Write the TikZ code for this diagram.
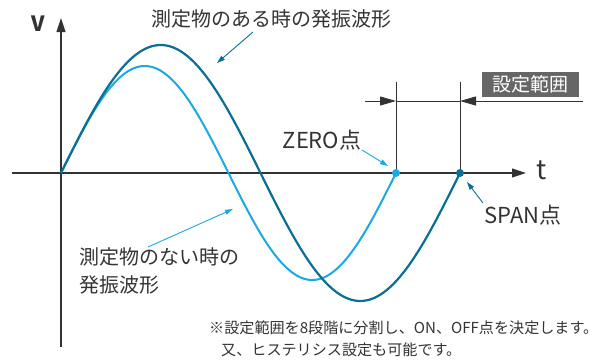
\documentclass[tikz,border=0pt]{standalone}
\usepackage{fontspec}
\setmainfont{Noto Sans CJK JP}
\usetikzlibrary{arrows.meta, positioning}
\definecolor{wavedark}{HTML}{0B6E94}
\definecolor{wavelight}{HTML}{1BA9E1}
\definecolor{inkgray}{HTML}{333333}
\definecolor{boxgray}{HTML}{666666}

\begin{document}
\begin{tikzpicture}[x=1pt, y=1pt,
    axisline/.style={inkgray, line width=1.1pt, -{Triangle[length=14pt, width=9pt]}},
    guide/.style={inkgray, line width=1pt},
    rangetip/.style={inkgray, line width=1pt, -{Triangle[length=16pt, width=9pt]}},
    lightwave/.style={wavelight, line width=2pt},
    darkwave/.style={wavedark, line width=2.2pt},
    callout/.style={line width=0.9pt, -{Triangle[length=8pt, width=5pt]}},
    lbl/.style={inkgray, font=\fontsize{20}{28}\selectfont, inner sep=0pt},
    note/.style={inkgray, font=\fontsize{15.1}{18}\selectfont, inner sep=0pt, anchor=west},
    dotmark/.style={circle, inner sep=0pt, minimum size=8pt}
]
    \useasboundingbox (0,0) rectangle (603,360);

    % axes
    \coordinate (tStart) at (12,187);
    \coordinate (tEnd) at (526,187);
    \coordinate (vStart) at (61,13);
    \coordinate (vEnd) at (61,342);
    \draw[axisline] (tStart) -- (tEnd);
    \draw[axisline] (vStart) -- (vEnd);
    \node[lbl, font=\fontsize{27}{27}\selectfont] (tLabel) at (542,190) {t};
    \node[lbl, font=\fontsize{21}{21}\bfseries] (vLabel) at (38,336) {V};

    % waveforms
    \draw[lightwave] plot[domain=61:396, samples=150] (\x, {187+107*sin((\x-61)*1.07463)});
    \draw[darkwave] plot[domain=61:460, samples=150] (\x, {187+128*sin((\x-61)*0.90226)});

    % set range
    \coordinate (zeroTop) at (396,278);
    \coordinate (spanTop) at (460,278);
    \coordinate (rangeL) at (365,259);
    \coordinate (rangeR) at (583,259);
    \coordinate (zeroMid) at (396,259);
    \coordinate (spanMid) at (460,259);
    \draw[guide] (396,187) -- (zeroTop);
    \draw[guide] (460,187) -- (spanTop);
    \draw[guide] (zeroMid) -- (spanMid);
    \draw[rangetip] (rangeL) -- (zeroMid);
    \draw[rangetip] (rangeR) -- (spanMid);
    \node[fill=boxgray, text=white, font=\fontsize{19}{19}\selectfont,
          minimum width=97pt, minimum height=25pt, inner sep=0pt] (range) at (530.5,275.5) {設定範囲};

    % points
    \node[dotmark, fill=wavelight] (zero) at (396,187) {};
    \node[dotmark, fill=wavedark] (span) at (460,187) {};
    \node[lbl, font=\fontsize{22}{22}\selectfont] (zeroLabel) at (322,220) {ZERO点};
    \node[lbl, font=\fontsize{22}{22}\selectfont] (spanLabel) at (523,145) {SPAN点};
    \coordinate (zeroFrom) at (362,210);
    \coordinate (zeroTo) at (388,194);
    \coordinate (spanFrom) at (483,157);
    \coordinate (spanTo) at (467,178);
    \draw[callout, wavelight] (zeroFrom) -- (zeroTo);
    \draw[callout, wavedark] (spanFrom) -- (spanTo);

    % wave labels
    \node[lbl] (withLabel) at (271,341) {測定物のある時の発振波形};
    \node[lbl, align=left, anchor=north west] (withoutLabel) at (79,113) {測定物のない時の\\発振波形};
    \coordinate (withFrom) at (253,328);
    \coordinate (withTo) at (217,297);
    \coordinate (withoutFrom) at (148,113);
    \coordinate (withoutTo) at (233,151);
    \draw[callout, wavedark] (withFrom) -- (withTo);
    \draw[callout, wavelight] (withoutFrom) -- (withoutTo);

    % note
    \node[note] (noteA) at (209,32) {※設定範囲を8段階に分割し、ON、OFF点を決定します。};
    \node[note] (noteB) at (221,10) {又、ヒステリシス設定も可能です。};
\end{tikzpicture}
\end{document}
